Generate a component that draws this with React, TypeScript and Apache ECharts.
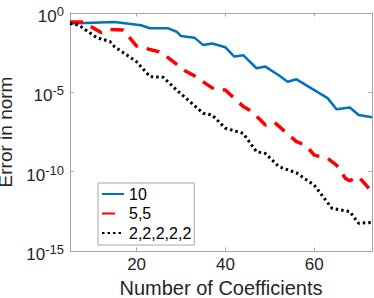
import React, { useEffect, useRef } from 'react';
import * as echarts from 'echarts';

const seriesNames = ['10', '5,5', '2,2,2,2,2'];

const blueX = [5, 15, 21, 23, 27, 29, 30, 33, 35, 37, 40, 42, 44, 47, 49, 52, 54, 56, 63, 65, 68, 70, 73];
const blueY = [2.2e-1, 2.7e-1, 1.7e-1, 1.1e-1, 1.1e-1, 6.6e-2, 3.5e-2, 2.8e-2, 9.5e-3, 1.2e-2, 6.9e-3, 1.8e-3, 2.2e-3, 3.3e-4, 4.2e-4, 1.2e-4, 4.7e-5, 6.6e-5, 4.3e-6, 8.5e-7, 1.1e-6, 3.7e-7, 2.7e-7];

const redX = [5, 8, 12, 14, 17, 20, 25, 26, 31, 33, 37, 39, 40, 41, 44, 46, 49, 51, 56, 58, 60, 63, 65, 67, 68, 70, 72, 73];
const redY = [2.7e-1, 2.7e-1, 5.8e-2, 9.3e-2, 8.5e-2, 8.3e-3, 3.6e-3, 2.6e-3, 2.2e-4, 1.1e-4, 1.9e-5, 1.4e-5, 1.4e-5, 7.6e-6, 1.3e-6, 6.0e-7, 8.7e-8, 1.3e-7, 7.8e-9, 4.8e-9, 1.1e-9, 6.9e-10, 2.6e-10, 3.8e-11, 2.7e-11, 4.9e-11, 1.1e-11, 5.2e-12];

const blackX = [5, 7, 11, 14, 15, 20, 23, 26, 29, 35, 37, 40, 44, 47, 49, 52, 56, 60, 64, 68, 70, 73];
const blackY = [2.2e-1, 1.7e-1, 2.8e-2, 1.6e-2, 7.6e-3, 8.5e-4, 9.8e-5, 8.9e-5, 1.4e-5, 4.8e-7, 3.7e-7, 5.4e-8, 2.6e-8, 1.8e-9, 1.4e-9, 2.1e-10, 8.3e-11, 1.4e-11, 4.9e-13, 3.0e-13, 5.6e-14, 6.3e-14];

const xTicks = [20, 40, 60];
const yTicks = [1e-15, 1e-10, 1e-5, 1];

const FONT = '"Liberation Sans", Arial, Helvetica, sans-serif';
const AXIS_GRAY = '#a6a6a6';
const TEXT = '#262626';

export default function App() {
  const ref = useRef<HTMLDivElement>(null);
  useEffect(() => {
    document.body.style.margin = '0';
    const chart = echarts.init(ref.current!, null, { renderer: 'svg' });
    const axisLine = { show: true, onZero: false, lineStyle: { color: AXIS_GRAY, width: 1 } };
    const pairs = (xs: number[], ys: number[]) => xs.map((x, i) => [x, ys[i]]);
    chart.setOption({
      animation: false,
      textStyle: { fontFamily: FONT },
      grid: { left: 70, right: 2, top: 13, bottom: 47, containLabel: false, outerBoundsMode: 'none' },
      legend: {
        orient: 'vertical',
        left: 98,
        top: 183,
        padding: [3, 3, 4, 3],
        itemWidth: 22,
        itemHeight: 14,
        itemGap: 3.5,
        borderColor: AXIS_GRAY,
        borderWidth: 1,
        backgroundColor: '#ffffff',
        itemStyle: { opacity: 0, borderWidth: 0, color: 'transparent' },
        textStyle: { fontSize: 16, color: '#000', fontFamily: FONT },
        data: seriesNames,
      },
      xAxis: [
        {
          type: 'value',
          position: 'bottom',
          min: 5,
          max: 73,
          axisLine,
          axisTick: { show: true, inside: true, length: 3.5, customValues: xTicks, lineStyle: { color: AXIS_GRAY } },
          axisLabel: { customValues: xTicks, margin: 5, fontSize: 17, color: TEXT, fontFamily: FONT },
          splitLine: { show: false },
          name: 'Number of Coefficients',
          nameLocation: 'middle',
          nameGap: 24,
          nameTextStyle: { fontSize: 20, color: TEXT, fontFamily: FONT },
        },
        {
          type: 'value',
          position: 'top',
          min: 5,
          max: 73,
          axisLine,
          axisTick: { show: true, inside: true, length: 3.5, customValues: xTicks, lineStyle: { color: AXIS_GRAY } },
          axisLabel: { show: false },
          splitLine: { show: false },
        },
      ],
      yAxis: [
        {
          type: 'log',
          logBase: 10,
          position: 'left',
          min: 1e-15,
          max: 1,
          axisLine,
          axisTick: { show: true, inside: true, length: 3.5, customValues: yTicks, lineStyle: { color: AXIS_GRAY } },
          axisLabel: {
            customValues: yTicks,
            margin: 6,
            padding: [4, 0, 0, 0],
            formatter: (v: number) => `{b|10}{s|${Math.round(Math.log10(v))}}`,
            rich: {
              b: { fontSize: 17, lineHeight: 20, verticalAlign: 'bottom', color: TEXT, fontFamily: FONT },
              s: { fontSize: 13, lineHeight: 12, verticalAlign: 'top', color: TEXT, fontFamily: FONT },
            },
          },
          splitLine: { show: false },
          minorTick: { show: false },
          name: 'Error in norm',
          nameLocation: 'middle',
          nameGap: 43,
          nameRotate: 90,
          nameTextStyle: { fontSize: 19, color: TEXT, fontFamily: FONT },
        },
        {
          type: 'log',
          logBase: 10,
          position: 'right',
          min: 1e-15,
          max: 1,
          axisLine,
          axisTick: { show: true, inside: true, length: 3.5, customValues: yTicks, lineStyle: { color: AXIS_GRAY } },
          axisLabel: { show: false },
          splitLine: { show: false },
        },
      ],
      series: [
        {
          type: 'line',
          name: seriesNames[0],
          data: pairs(blueX, blueY),
          symbol: 'none',
          lineStyle: { color: '#0072BD', width: 2.5 },
          itemStyle: { color: '#0072BD' },
        },
        {
          type: 'line',
          name: seriesNames[1],
          data: pairs(redX, redY),
          symbol: 'none',
          lineStyle: { color: '#FF0000', width: 3.5, type: [13, 9], cap: 'butt' },
          itemStyle: { color: '#FF0000' },
        },
        {
          type: 'line',
          name: seriesNames[2],
          data: pairs(blackX, blackY),
          symbol: 'none',
          lineStyle: { color: '#000000', width: 3, type: [2.5, 3], cap: 'butt' },
          itemStyle: { color: '#000000' },
        },
      ],
    });
    return () => chart.dispose();
  }, []);
  return <div ref={ref} style={{ width: 374, height: 298 }} />;
}
